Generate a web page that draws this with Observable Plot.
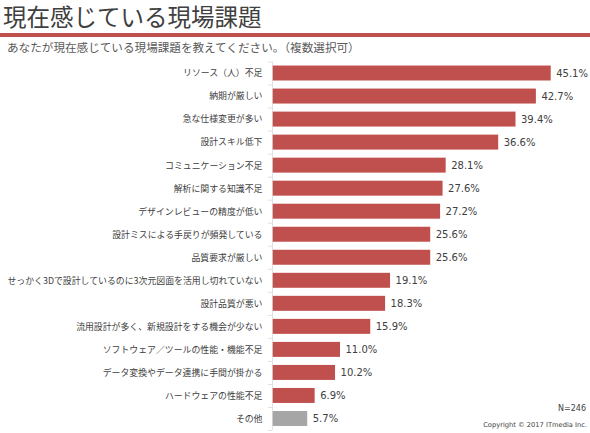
<!DOCTYPE html>
<html lang="ja"><head><meta charset="utf-8">
<script src="https://cdn.jsdelivr.net/npm/d3@7"></script>
<script src="https://cdn.jsdelivr.net/npm/@observablehq/plot@0.6"></script>
<style>
html,body{margin:0;padding:0;background:#fff;width:590px;height:433px;overflow:hidden}
body{position:relative;font-family:"Noto Sans CJK JP",sans-serif}
#title{position:absolute;left:3px;top:-2px;font-size:23.5px;line-height:36px;color:#404040;white-space:nowrap}
#rule{position:absolute;left:0;top:33px;width:590px;height:4px;background:#c0504d}
#sub{position:absolute;left:7px;top:38px;font-size:11.6px;line-height:18px;color:#595959;white-space:nowrap;font-feature-settings:"palt" 0}
#chart{position:absolute;left:0;top:58px}
#n{position:absolute;right:4px;top:404px;font:8px "DejaVu Sans",sans-serif;color:#404040}
#copy{position:absolute;right:3px;top:421px;font:6.7px "DejaVu Sans",sans-serif;color:#404040}
</style></head><body>
<div id="title">現在感じている現場課題</div>
<div id="rule"></div>
<div id="sub">あなたが現在感じている現場課題を教えてください。（複数選択可）</div>
<div id="chart"></div>
<div id="n">N=246</div>
<div id="copy">Copyright © 2017 ITmedia Inc.</div>
<script>
const categories = ["リソース（人）不足","納期が厳しい","急な仕様変更が多い","設計スキル低下","コミュニケーション不足","解析に関する知識不足","デザインレビューの精度が低い","設計ミスによる手戻りが頻発している","品質要求が厳しい","せっかく3Dで設計しているのに3次元図面を活用し切れていない","設計品質が悪い","流用設計が多く、新規設計をする機会が少ない","ソフトウェア／ツールの性能・機能不足","データ変換やデータ連携に手間が掛かる","ハードウェアの性能不足","その他"];
const values = [45.1,42.7,39.4,36.6,28.1,27.6,27.2,25.6,25.6,19.1,18.3,15.9,11.0,10.2,6.9,5.7];
const barColors = categories.map(c => c === "その他" ? "#a6a6a6" : "#c0504d");
const rows = categories.map((c,i)=>({c, v:values[i], col:barColors[i]}));
const chart = Plot.plot({
  width:590, height:375,
  marginLeft:272, marginRight:9, marginTop:3.5, marginBottom:3,
  style:{fontFamily:'"Noto Sans CJK JP",sans-serif',background:"transparent",overflow:"visible"},
  x:{domain:[0,50],axis:null},
  y:{domain:categories,axis:null,paddingInner:0.35,paddingOuter:0.175,round:false},
  marks:[
    Plot.barX(rows,{y:"c",x:"v",fill:d=>d.col}),
    Plot.ruleX([0],{stroke:"#d9d9d9",strokeWidth:0.8}),
    Plot.ruleY(categories,{y:d=>d,x1:-0.7,x2:0,dy:-11.5,stroke:"#d9d9d9",strokeWidth:0.8}),
    Plot.ruleY(categories.slice(-1),{y:d=>d,x1:-0.7,x2:0,dy:11.5,stroke:"#d9d9d9",strokeWidth:0.8}),
    Plot.text(rows,{y:"c",x:0,text:"c",textAnchor:"end",dx:-10,fontSize:8.9,fill:"#404040"}),
    Plot.text(rows,{y:"c",x:"v",text:d=>d.v.toFixed(1)+"%",textAnchor:"start",dx:5,fontSize:10,fill:"#404040",fontFamily:'"DejaVu Sans",sans-serif'})
  ]
});
document.getElementById("chart").appendChild(chart);
</script></body></html>
